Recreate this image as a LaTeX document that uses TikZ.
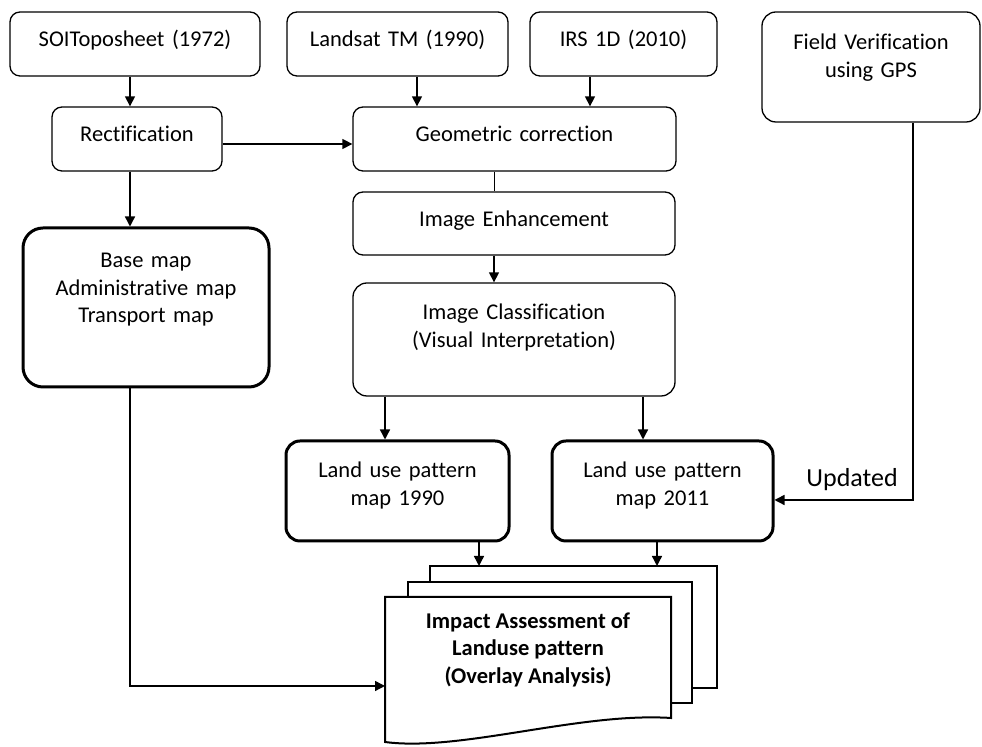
\documentclass[tikz,border=0pt]{standalone}
\usepackage{fontspec}
\setmainfont{Carlito}[Ligatures=CommonOff]
\usetikzlibrary{arrows.meta}

\newcommand{\boxfont}{\fontsize{11.25}{13.75}\selectfont}

\tikzset{
  box/.style={draw, rounded corners=5pt, line width=.65pt, align=center,
    inner sep=0pt, text height=17.5pt, font=\boxfont},
  mapbox/.style={box, rounded corners=8pt, line width=1.5pt},
  arr/.style={line width=.7pt, -{Triangle[length=5pt,width=5pt]}},
  page/.style={draw, fill=white, line width=1pt},
}

\begin{document}
\begin{tikzpicture}[x=.5pt,y=-.5pt]

\useasboundingbox (0,0) rectangle (982,747) ;

% input data
\node (soi) [box, text width=125pt, text depth=14.5pt] at (135,44) {SOIToposheet (1972)} ;
\node (landsat) [box, text width=110.5pt, text depth=14.5pt] at (397.5,44) {Landsat TM (1990)} ;
\node (irs) [box, text width=93.5pt, text depth=14.5pt] at (623.5,44) {IRS 1D (2010)} ;
\node (field) [box, rounded corners=7pt, text width=109pt, text height=19pt, text depth=36pt] at (871,67) {Field Verification\\using GPS} ;

% processing
\node (rect) [box, text width=85pt, text depth=14.5pt] at (137,139) {Rectification} ;
\node (geo) [box, text width=161.5pt, text depth=14.5pt] at (514.5,139) {Geometric correction} ;
\node (enh) [box, text width=161pt, text depth=14pt] at (514,223.5) {Image Enhancement} ;
\node (cls) [box, rounded corners=7pt, text width=161pt, text height=18.5pt, text depth=38pt] at (514,339.5) {Image Classification\\(Visual Interpretation)} ;

% maps
\node (base) [mapbox, rounded corners=10pt, text width=123pt, text height=20pt, text depth=59.5pt] at (146,307.5) {Base map\\Administrative map\\Transport map} ;
\node (lu90) [mapbox, rounded corners=7pt, text width=111.5pt, text height=18.5pt, text depth=31.5pt] at (397.5,491) {Land use pattern\\map 1990} ;
\node (lu11) [mapbox, rounded corners=7pt, text width=110.5pt, text height=18.5pt, text depth=31.5pt] at (662.5,491) {Land use pattern\\map 2011} ;

% stacked report
\draw [page] (430,566) rectangle (717,688) ;
\draw [page] (408,582) rectangle (692,703) ;
\draw [page] (385,597) -- (671,597) -- (671,718) .. controls (580,712) and (460,752) .. (385,742) -- cycle ;
\node (impact) [font=\boxfont\bfseries, align=center] at (528,649.5) {Impact Assessment of\\Landuse pattern\\(Overlay Analysis)} ;
\coordinate (docback) at (430,566) ;
\coordinate (docin) at (385,686) ;

% connectors
\draw [arr] ([xshift=-2.5pt]soi.south) -- ([xshift=-2.5pt]soi.south |- rect.north) ;
\draw [arr] ([xshift=9.75pt]landsat.south) -- ([xshift=9.75pt]landsat.south |- geo.north) ;
\draw [arr] ([xshift=-16.75pt]irs.south) -- ([xshift=-16.75pt]irs.south |- geo.north) ;
\draw [arr] ([yshift=-2.5pt]rect.east) -- ([yshift=-2.5pt]rect.east -| geo.west) ;
\draw [arr] ([xshift=-3.5pt]rect.south) -- ([xshift=-3.5pt]rect.south |- base.north) ;
\draw [line width=.7pt] ([xshift=-10pt]geo.south) -- ([xshift=-10pt]geo.south |- enh.north) ;
\draw [arr] ([xshift=-10pt]enh.south) -- ([xshift=-10pt]enh.south |- cls.north) ;
\draw [arr] ([xshift=-6.25pt]lu90.north |- cls.south) -- ([xshift=-6.25pt]lu90.north) ;
\draw [arr] ([xshift=-9.75pt]lu11.north |- cls.south) -- ([xshift=-9.75pt]lu11.north) ;
\draw [arr] ([xshift=40.75pt]lu90.south) -- ([xshift=40.75pt]lu90.south |- docback) ;
\draw [arr] ([xshift=-2.75pt]lu11.south) -- ([xshift=-2.75pt]lu11.south |- docback) ;
\draw [arr] ([xshift=-8pt]base.south) |- (docin) ;
\draw [arr] ([xshift=21pt]field.south) |- node (upd) [pos=.72, above=1pt, font=\fontsize{13}{15}\selectfont] {Updated} ([yshift=-4.5pt]lu11.east) ;

\end{tikzpicture}
\end{document}
